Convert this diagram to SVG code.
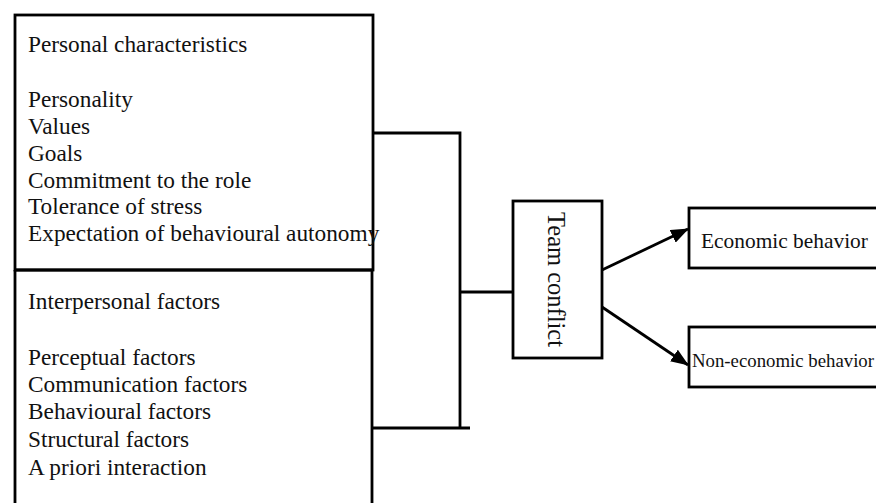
<svg xmlns="http://www.w3.org/2000/svg" width="876" height="503" viewBox="0 0 876 503">
<defs>
<style>
.box{fill:none;stroke:#000;stroke-width:2.8}
.ln{fill:none;stroke:#000;stroke-width:2.8}
.t{font-family:"Liberation Serif","Times New Roman",serif;font-size:23.3px;fill:#111}
</style>
<marker id="arr" viewBox="0 0 18 14" refX="17" refY="7" markerWidth="18" markerHeight="14" markerUnits="userSpaceOnUse" orient="auto">
<path d="M0,0 L18,7 L0,14 z" fill="#000"/>
</marker>
</defs>
<rect width="876" height="503" fill="#fff"/>
<g id="personal">
<rect class="box" x="15" y="15" width="358" height="255"/>
<text class="t" x="28" y="52">Personal characteristics</text>
<text class="t" x="28" y="107">Personality</text>
<text class="t" x="28" y="134">Values</text>
<text class="t" x="28" y="161">Goals</text>
<text class="t" x="28" y="188">Commitment to the role</text>
<text class="t" x="28" y="214">Tolerance of stress</text>
<text class="t" x="28" y="241">Expectation of behavioural autonomy</text>
</g>
<g id="interpersonal">
<path class="box" d="M15,270 L372,270 M15,270 L15,505 M372,270 L372,505"/>
<text class="t" x="28" y="309">Interpersonal factors</text>
<text class="t" x="28" y="365">Perceptual factors</text>
<text class="t" x="28" y="392">Communication factors</text>
<text class="t" x="28" y="419">Behavioural factors</text>
<text class="t" x="28" y="447">Structural factors</text>
<text class="t" x="28" y="475">A priori interaction</text>
</g>
<g id="team">
<rect class="box" x="513" y="201" width="89" height="157"/>
<text class="t" x="548" y="212" transform="rotate(90 548 212)" style="font-size:24.5px">Team conflict</text>
</g>
<g id="economic">
<rect class="box" x="689" y="208" width="200" height="60"/>
<text class="t" x="701" y="248" style="font-size:21.4px">Economic behavior</text>
</g>
<g id="noneconomic">
<rect class="box" x="689" y="327" width="200" height="60"/>
<text class="t" x="692" y="367" style="font-size:18.8px">Non-economic behavior</text>
</g>
<g id="connectors">
<path class="ln" d="M373,133 L460,133 L460,428 M372,428 L470,428 M460,292 L513,292"/>
<path class="ln" d="M602,270 L688,229" marker-end="url(#arr)"/>
<path class="ln" d="M602,307 L688,365" marker-end="url(#arr)"/>
</g>
</svg>
